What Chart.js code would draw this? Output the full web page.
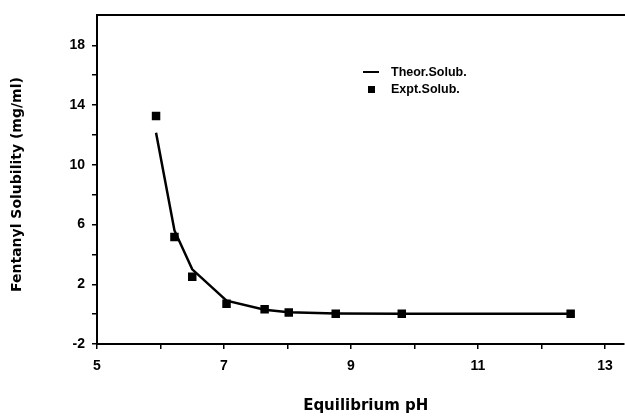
<!DOCTYPE html>
<html>
<head>
<meta charset="utf-8">
<script src="https://cdn.jsdelivr.net/npm/chart.js@4.4.1/dist/chart.umd.min.js"></script>
<style>
  html, body { margin: 0; padding: 0; background: #fff; }
  #wrap { width: 625px; height: 417px; overflow: hidden; }
</style>
</head>
<body>
<div id="wrap"><canvas id="graphCanvas" width="630" height="417"></canvas></div>
<script>
// equilibrium pH of each measurement
const phValues = [5.93, 6.22, 6.50, 7.04, 7.64, 8.02, 8.76, 9.80, 12.46];
// experimental solubility, mg/ml
const exptSolub = [13.27, 5.17, 2.51, 0.69, 0.33, 0.11, 0.02, 0.02, 0.02];
// theoretical solubility curve, mg/ml
const theorSolub = [12.15, 5.6, 3.0, 0.9, 0.3, 0.12, 0.04, 0.02, 0.02];
const xTickLabels = [5, 7, 9, 11, 13];
const yTickLabels = [-2, 2, 6, 10, 14, 18];

const font = 'Liberation Sans, Arial, Helvetica, sans-serif';
const titleFont = 'DejaVu Sans, sans-serif';

// small legend drawn inside the plot, like the original figure
const innerLegend = {
    id: 'innerLegend',
    afterDraw(chart) {
        const ctx = chart.ctx;
        const ds = chart.data.datasets;
        ctx.save();
        ctx.fillStyle = '#000';
        ctx.strokeStyle = '#000';
        ctx.font = 'bold 12.5px ' + font;
        ctx.textBaseline = 'middle';
        // line entry
        ctx.lineWidth = 2;
        ctx.beginPath();
        ctx.moveTo(363, 72);
        ctx.lineTo(379, 72);
        ctx.stroke();
        ctx.fillText(ds[0].label, 391, 73);
        // square entry
        ctx.fillRect(368, 86, 7, 7);
        ctx.fillText(ds[1].label, 391, 90);
        ctx.restore();
    }
};

const ctx = document.getElementById('graphCanvas').getContext('2d');
new Chart(ctx, {
    type: 'scatter',
    data: {
        datasets: [{
            label: 'Theor.Solub.',
            data: phValues.map((x, i) => ({x: x, y: theorSolub[i]})),
            showLine: true,
            borderColor: '#000',
            borderWidth: 2.5,
            pointRadius: 0,
            fill: false
        }, {
            label: 'Expt.Solub.',
            data: phValues.map((x, i) => ({x: x, y: exptSolub[i]})),
            showLine: false,
            pointStyle: 'rect',
            pointRadius: 6,
            backgroundColor: '#000',
            borderColor: '#000',
            borderWidth: 0
        }]
    },
    options: {
        responsive: false,
        animation: false,
        layout: { padding: { top: 8, left: 0, right: 0, bottom: 0 } },
        plugins: {
            legend: { display: false },
            tooltip: { enabled: false }
        },
        scales: {
            x: {
                type: 'linear',
                position: 'bottom',
                min: 5,
                max: 13.3,
                afterFit: s => { s.height = 73; },
                afterBuildTicks: s => { s.ticks = s.ticks.filter(t => Number.isInteger(t.value)); },
                border: { display: true, color: '#000', width: 2 },
                grid: { display: true, drawOnChartArea: false, drawTicks: true, tickLength: 5, color: '#000', lineWidth: 1.5 },
                ticks: {
                    stepSize: 1,
                    includeBounds: false,
                    autoSkip: false,
                    maxRotation: 0,
                    padding: 9,
                    color: '#000',
                    font: { family: font, size: 14, weight: 'bold' },
                    callback: v => xTickLabels.includes(v) ? String(v) : ''
                },
                title: {
                    display: true,
                    text: '  Equilibrium pH',
                    color: '#000',
                    font: { family: titleFont, size: 15, weight: 'bold' },
                    padding: { top: 0, bottom: 2 }
                }
            },
            x2: {
                type: 'linear',
                position: 'top',
                min: 5,
                max: 13.3,
                afterFit: s => { s.height = 2; },
                border: { display: true, color: '#000', width: 2 },
                grid: { display: false, drawTicks: false },
                ticks: { display: false }
            },
            y: {
                type: 'linear',
                min: -2,
                max: 20,
                afterFit: s => { s.width = 97; },
                afterBuildTicks: s => { s.ticks = s.ticks.filter(t => t.value < 20); },
                border: { display: true, color: '#000', width: 2 },
                grid: { display: true, drawOnChartArea: false, drawTicks: true, tickLength: 5, color: '#000', lineWidth: 1.5 },
                ticks: {
                    stepSize: 2,
                    includeBounds: false,
                    autoSkip: false,
                    padding: 7,
                    color: '#000',
                    font: { family: font, size: 14, weight: 'bold' },
                    callback: v => yTickLabels.includes(v) ? String(v) : ''
                },
                title: {
                    display: true,
                    text: 'Fentanyl Solubility (mg/ml)  ',
                    color: '#000',
                    font: { family: titleFont, size: 14, weight: 'bold' },
                    padding: { top: 9, bottom: 0 }
                }
            }
        }
    },
    plugins: [innerLegend]
});
</script>
</body>
</html>
